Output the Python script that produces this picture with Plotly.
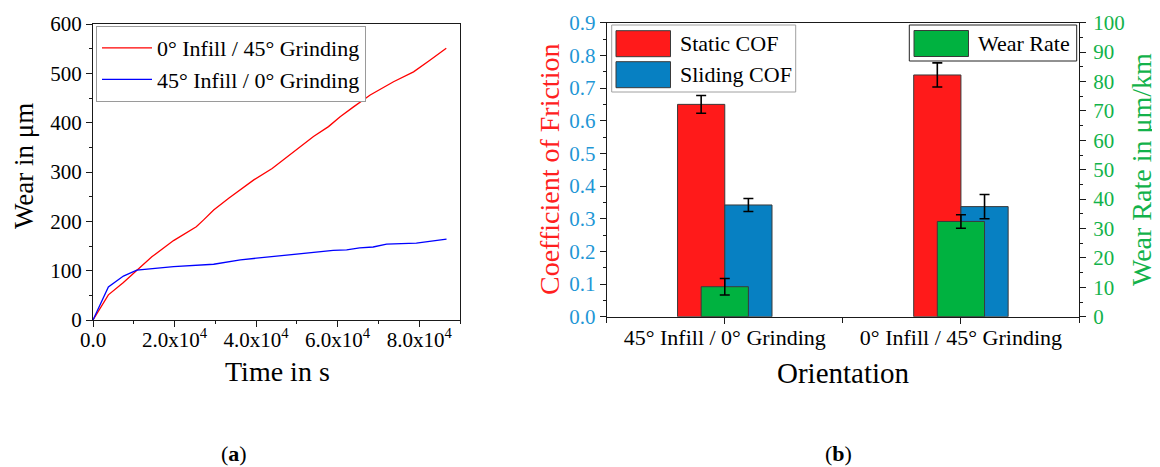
import plotly.graph_objects as go

# ---------------- data: panel (a) ----------------
time_red_s = [0, 3770, 7460, 10740, 14430, 19750, 25330, 27130, 29590, 33280, 39430,
              43930, 48400, 54070, 57750, 60610, 63890, 67980, 73700, 78610, 82700, 86630]
wear_red_um = [0, 51, 76, 101, 128, 161, 189, 203, 223, 247, 284,
               307, 336, 372, 392, 412, 432, 456, 483, 503, 527, 551]
label_red = "0° Infill / 45° Grinding"

time_blue_s = [0, 3770, 7460, 10740, 19750, 29590, 36150, 48440, 50700,
               58900, 62200, 65400, 68700, 72000, 79300, 86700]
wear_blue_um = [0, 67, 89, 101, 108, 113, 122, 132, 135,
                141, 142, 146, 148, 154, 156, 164]
label_blue = "45° Infill / 0° Grinding"

time_tickvals = [0, 20000, 40000, 60000, 80000]
time_ticktext = ["0.0", "2.0x10<sup>4</sup>", "4.0x10<sup>4</sup>",
                 "6.0x10<sup>4</sup>", "8.0x10<sup>4</sup>"]

# ---------------- data: panel (b) ----------------
categories = ["45° Infill / 0° Grinding", "0° Infill / 45° Grinding"]
static_cof = [0.650, 0.740]
static_cof_err = [0.027, 0.037]
sliding_cof = [0.342, 0.337]
sliding_cof_err = [0.020, 0.037]
wear_rate = [10.2, 32.4]
wear_rate_err = [2.8, 2.3]

# ---------------- styles ----------------
FONT = "Liberation Serif, Times New Roman, serif"
RED_BAR = "#FF1A1A"
BLUE_BAR = "#0780C2"
GREEN_BAR = "#00B240"
TICK_BLUE = "#1F97D6"
TICK_GREEN = "#12B24A"
TITLE_RED = "#FF2020"
AX = "#1a1a1a"
BAR_EDGE = "#3a3a3a"

xpos = list(range(len(categories)))
BW = 0.2

# The page body has an 8px margin, so the figure is drawn 8px in/down.
OFF = 8
W, H = 1160 - OFF, 467 - OFF


def px_x(p):
    return (p - OFF) / W


def px_y(p):
    return 1 - (p - OFF) / H


def f(size, color="black"):
    return dict(family=FONT, size=size, color=color)


fig = go.Figure()

# panel (a) lines
fig.add_trace(go.Scatter(x=time_red_s, y=wear_red_um, mode="lines", name=label_red,
                         line=dict(color="#FF0000", width=1.3),
                         xaxis="x", yaxis="y", legend="legend"))
fig.add_trace(go.Scatter(x=time_blue_s, y=wear_blue_um, mode="lines", name=label_blue,
                         line=dict(color="#0000FF", width=1.3),
                         xaxis="x", yaxis="y", legend="legend"))

err_style = dict(type="data", color="black", thickness=1.6, width=5)
bar_line = dict(color=BAR_EDGE, width=1)

# panel (b) bars
fig.add_trace(go.Bar(x=xpos, y=static_cof, name="Static COF", width=BW, offset=-BW,
                     marker=dict(color=RED_BAR, line=bar_line), showlegend=False,
                     error_y=dict(array=static_cof_err, **err_style),
                     xaxis="x2", yaxis="y2"))
fig.add_trace(go.Bar(x=xpos, y=sliding_cof, name="Sliding COF", width=BW, offset=0,
                     marker=dict(color=BLUE_BAR, line=bar_line), showlegend=False,
                     error_y=dict(array=sliding_cof_err, **err_style),
                     xaxis="x2", yaxis="y2"))
fig.add_trace(go.Bar(x=xpos, y=wear_rate, name="Wear Rate", width=BW, offset=-BW / 2,
                     marker=dict(color=GREEN_BAR, line=bar_line), showlegend=False,
                     error_y=dict(array=wear_rate_err, **err_style),
                     xaxis="x2", yaxis="y3"))

common_axis = dict(showgrid=False, zeroline=False, showline=True, linecolor=AX, linewidth=1.2,
                   ticks="outside", ticklen=6, tickwidth=1.2, tickcolor=AX, automargin=False)

# ---- legend boxes for panel (b) (large swatches as in the source) ----
shapes = []
annotations = []


def legend_box(x0, y0, x1, y1, border):
    shapes.append(dict(type="rect", xref="paper", yref="paper",
                       x0=px_x(x0), x1=px_x(x1), y0=px_y(y1), y1=px_y(y0),
                       line=dict(color=border, width=1), fillcolor="white", layer="above"))


def legend_item(x0, y0, color, text):
    shapes.append(dict(type="rect", xref="paper", yref="paper",
                       x0=px_x(x0), x1=px_x(x0 + 54.5), y0=px_y(y0 + 26), y1=px_y(y0),
                       line=dict(color=BAR_EDGE, width=1), fillcolor=color, layer="above"))
    annotations.append(dict(text=text, x=px_x(x0 + 61.5), y=px_y(y0 + 13), xref="paper",
                            yref="paper", xanchor="left", yanchor="middle", showarrow=False,
                            font=f(22)))


legend_box(611.7, 25, 795.7, 92, "#a0a0a0")
legend_item(616, 30.7, RED_BAR, "Static COF")
legend_item(616, 61.7, BLUE_BAR, "Sliding COF")
legend_box(909.3, 25, 1076.7, 61, "#222222")
legend_item(914, 30.5, GREEN_BAR, "Wear Rate")

# ---- axis titles and panel labels ----
annotations += [
    dict(text="Wear in μm", x=px_x(24), y=px_y(166), textangle=-90, font=f(27)),
    dict(text="Time in s", x=px_x(277), y=px_y(371), font=f(28)),
    dict(text="Coefficient of Friction", x=px_x(549), y=px_y(170), textangle=-90,
         font=f(28, TITLE_RED)),
    dict(text="Wear Rate in μm/km", x=px_x(1141), y=px_y(170), textangle=-90,
         font=f(28, TICK_GREEN)),
    dict(text="Orientation", x=px_x(843), y=px_y(373), font=f(29)),
    dict(text="(<b>a</b>)", x=px_x(233.5), y=px_y(453), font=f(22)),
    dict(text="(<b>b</b>)", x=px_x(838), y=px_y(453), font=f(22)),
]
for a in annotations[-7:]:
    a.update(xref="paper", yref="paper", showarrow=False, xanchor="center", yanchor="middle")

fig.update_layout(
    width=W, height=H, margin=dict(l=0, r=0, t=0, b=0),
    paper_bgcolor="white", plot_bgcolor="white",
    font=f(21),
    barmode="overlay",
    xaxis=dict(domain=[px_x(93), px_x(460)], anchor="y", range=[0, 90000],
               tickmode="array", tickvals=time_tickvals, ticktext=time_ticktext,
               mirror=True, ticklabelstandoff=-5,
               minor=dict(dtick=10000, ticks="outside", ticklen=3, tickcolor=AX, tickwidth=1),
               tickfont=f(21), **common_axis),
    yaxis=dict(domain=[px_y(320), px_y(24)], anchor="x", range=[0, 600], dtick=100,
               mirror=True,
               minor=dict(dtick=50, ticks="outside", ticklen=3, tickcolor=AX, tickwidth=1),
               tickfont=f(21), **common_axis),
    xaxis2=dict(domain=[px_x(606.7), px_x(1079)], anchor="y2", range=[-0.5, 1.5],
                tickmode="array", tickvals=xpos, ticktext=categories, mirror=True,
                ticklabelstandoff=-5,
                minor=dict(tickmode="array", tickvals=[-0.5, 0.5, 1.5], ticks="outside",
                           ticklen=5, tickcolor=AX, tickwidth=1.2),
                tickfont=f(22), **common_axis),
    yaxis2=dict(domain=[px_y(316.7), px_y(22.7)], anchor="x2", range=[0, 0.9], dtick=0.1,
                tickformat=".1f", mirror=True,
                minor=dict(dtick=0.05, ticks="outside", ticklen=3, tickcolor=AX, tickwidth=1),
                tickfont=f(21, TICK_BLUE), **common_axis),
    yaxis3=dict(overlaying="y2", side="right", anchor="x2", range=[0, 100], dtick=10,
                ticklabelstandoff=3,
                minor=dict(dtick=5, ticks="outside", ticklen=3, tickcolor=AX, tickwidth=1),
                tickfont=f(21, TICK_GREEN), **common_axis),
    legend=dict(x=px_x(96), y=px_y(26), xanchor="left", yanchor="top",
                bgcolor="white", bordercolor="#9a9a9a", borderwidth=1,
                font=f(22), tracegroupgap=0, itemwidth=50),
    shapes=shapes,
    annotations=annotations,
)

fig.write_html("out.html")
